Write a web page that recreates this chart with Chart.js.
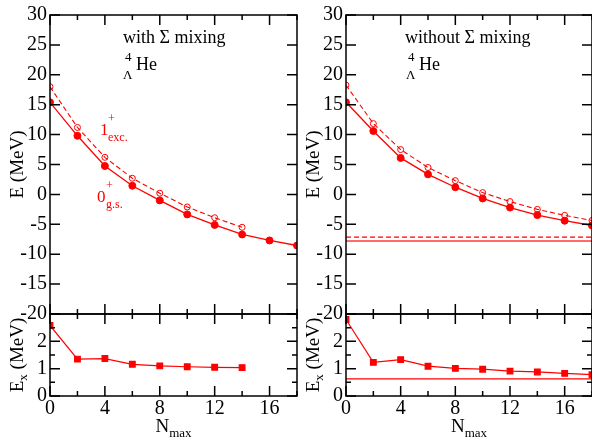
<!DOCTYPE html>
<html>
<head>
<meta charset="utf-8">
<script src="https://cdn.jsdelivr.net/npm/chart.js@4/dist/chart.umd.min.js"></script>
<style>
  html, body { margin: 0; padding: 0; background: #fff; }
  #wrap { position: relative; width: 592px; height: 442px; overflow: hidden; }
  canvas { position: absolute; left: 0; top: 0; }
</style>
</head>
<body>
<div id="wrap">
  <canvas id="lt" width="592" height="442"></canvas>
  <canvas id="lb" width="592" height="442"></canvas>
  <canvas id="rt" width="592" height="442"></canvas>
  <canvas id="rb" width="592" height="442"></canvas>
</div>
<script>
// N_max values
const nmax = [0, 2, 4, 6, 8, 10, 12, 14, 16, 18];

// with Sigma mixing (MeV)
const withGs = [15.4, 9.8, 4.75, 1.45, -1.0, -3.35, -5.1, -6.7, -7.7, -8.55];
const withExc = [18.0, 11.2, 6.2, 2.7, 0.2, -2.1, -3.9, -5.5];
const withEx = [2.58, 1.35, 1.37, 1.16, 1.10, 1.07, 1.05, 1.04];

// without Sigma mixing (MeV)
const woGs = [15.4, 10.6, 6.1, 3.35, 1.2, -0.67, -2.2, -3.46, -4.4, -5.2];
const woExc = [18.27, 11.84, 7.5, 4.5, 2.3, 0.3, -1.2, -2.5, -3.5, -4.36];
const woEx = [2.8, 1.23, 1.33, 1.09, 1.01, 0.98, 0.91, 0.88, 0.83, 0.78];

// horizontal reference levels, right panels
const woGsLine = -7.8;
const woExcLine = -7.15;
const woExLine = 0.63;

const serif = '"Liberation Serif", "Times New Roman", serif';
const red = '#ff0000';

const pts = ys => ys.map((y, i) => ({ x: nmax[i], y: y }));
const flat = v => [{ x: 0, y: v }, { x: 18, y: v }];

// frame, inward ticks and the text labels
const frame = {
  id: 'frame',
  afterDraw(chart, args, o) {
    const { ctx, chartArea: a } = chart;
    const x = chart.scales.x, y = chart.scales.y;
    ctx.save();
    ctx.strokeStyle = '#000';
    ctx.lineWidth = 1.5;
    ctx.strokeRect(a.left, a.top, a.right - a.left, a.bottom - a.top);
    ctx.beginPath();
    for (let v = 0; v <= 18; v += 2) {
      const px = x.getPixelForValue(v);
      const len = v % 4 === 0 ? 10 : 5;
      ctx.moveTo(px, a.top); ctx.lineTo(px, a.top + len);
      ctx.moveTo(px, a.bottom); ctx.lineTo(px, a.bottom - len);
    }
    for (let v = y.min; v <= y.max + 1e-9; v += o.yMinor) {
      const py = y.getPixelForValue(v);
      const r = v / o.yMajor;
      const len = Math.abs(r - Math.round(r)) < 1e-6 ? 10 : 5;
      ctx.moveTo(a.left, py); ctx.lineTo(a.left + len, py);
      ctx.moveTo(a.right, py); ctx.lineTo(a.right - len, py);
    }
    ctx.stroke();

    ctx.textBaseline = 'alphabetic';
    (o.texts || []).forEach(t => {
      ctx.fillStyle = t[4] || '#000';
      ctx.font = t[3] + 'px ' + serif;
      ctx.fillText(t[0], t[1], t[2]);
    });

    // titles built from runs: [text, size, dy]
    (o.titles || []).forEach(g => {
      let w = 0;
      g.parts.forEach(p => { ctx.font = p[1] + 'px ' + serif; w += ctx.measureText(p[0]).width; });
      ctx.save();
      ctx.translate(g.x, g.y);
      if (g.rot) ctx.rotate(-Math.PI / 2);
      ctx.fillStyle = '#000';
      let cx = -w / 2;
      g.parts.forEach(p => {
        ctx.font = p[1] + 'px ' + serif;
        ctx.fillText(p[0], cx, p[2]);
        cx += ctx.measureText(p[0]).width;
      });
      ctx.restore();
    });
    ctx.restore();
  }
};

function makeChart(id, datasets, opt) {
  return new Chart(document.getElementById(id), {
    type: 'line',
    data: { datasets: datasets },
    plugins: [frame],
    options: {
      responsive: false,
      animation: false,
      events: [],
      devicePixelRatio: 1,
      layout: { padding: opt.padding, autoPadding: false },
      plugins: {
        legend: { display: false },
        tooltip: { enabled: false },
        frame: { yMajor: opt.yMajor, yMinor: opt.yMinor, texts: opt.texts, titles: opt.titles }
      },
      scales: {
        x: {
          type: 'linear', min: 0, max: 18,
          display: opt.showX,
          grid: { display: false, drawTicks: false },
          border: { display: false },
          ticks: { stepSize: 4, includeBounds: false, autoSkip: false, maxRotation: 0,
                   padding: 1, color: '#000', font: { family: serif, size: 20 } },
          afterFit: s => { if (opt.showX) s.height = 46; }
        },
        y: {
          type: 'linear', min: opt.yMin, max: opt.yMax,
          grid: { display: false, drawTicks: false },
          border: { display: false },
          ticks: { stepSize: opt.yStep, autoSkip: false, padding: 3, color: '#000',
                   font: { family: serif, size: 20 },
                   callback: v => (v === 3 ? '' : v) },
          afterFit: s => { s.width = 50; }
        }
      }
    }
  });
}

const gsSet = d => ({ data: pts(d), borderColor: red, backgroundColor: red, borderWidth: 1.3,
  pointRadius: 3.5, pointBorderWidth: 1, tension: 0 });
const excSet = d => ({ data: pts(d), borderColor: red, borderWidth: 1.1, borderDash: [5, 3],
  pointRadius: 3, pointBorderWidth: 1, pointBackgroundColor: 'rgba(0,0,0,0)', tension: 0 });
const exSet = d => ({ data: pts(d), borderColor: red, backgroundColor: red, borderWidth: 1.2,
  pointStyle: 'rect', pointRadius: 4, tension: 0 });
const lineSet = (v, c, w, dash) => ({ data: flat(v), borderColor: c, borderWidth: w,
  borderDash: dash || [], pointRadius: 0 });

const Etitle = x => ({ x: x, y: 164.5, rot: true, parts: [['E (MeV)', 19, 0]] });
const Extitle = x => ({ x: x, y: 355, rot: true, parts: [['E', 19, 0], ['x', 13, 4], [' (MeV)', 19, 0]] });
const Ntitle = x => ({ x: x, y: 432, parts: [['N', 19, 0], ['max', 13, 5]] });

makeChart('lt', [gsSet(withGs), excSet(withExc)], {
  padding: { left: 0, right: 295, top: 15, bottom: 128 }, showX: false,
  yMin: -20, yMax: 30, yStep: 5, yMajor: 5, yMinor: 5,
  titles: [Etitle(23)],
  texts: [
    ['with \u03a3 mixing', 123, 43, 18],
    ['4', 125, 61, 13], ['\u039b', 123, 79, 13], ['He', 136, 70, 18],
    ['1', 100, 135, 17, red], ['+', 108, 122, 12, red], ['exc.', 108, 141, 12, red],
    ['0', 97, 202, 17, red], ['+', 106, 189, 12, red], ['g.s.', 106, 208, 12, red]
  ]
});

makeChart('lb', [exSet(withEx)], {
  padding: { left: 0, right: 295, top: 314, bottom: 0 }, showX: true,
  yMin: 0, yMax: 3, yStep: 1, yMajor: 1, yMinor: 0.5,
  titles: [Extitle(23), Ntitle(173.5)], texts: []
});

makeChart('rt', [
  gsSet(woGs), excSet(woExc),
  lineSet(woExcLine, red, 1.1, [5, 3]),
  lineSet(woGsLine, '#ff6a6a', 2)
], {
  padding: { left: 296, right: 0, top: 15, bottom: 128 }, showX: false,
  yMin: -20, yMax: 30, yStep: 5, yMajor: 5, yMinor: 5,
  titles: [Etitle(319)],
  texts: [
    ['without \u03a3 mixing', 405, 43, 18],
    ['4', 408, 61, 13], ['\u039b', 406, 79, 13], ['He', 419, 70, 18]
  ]
});

makeChart('rb', [exSet(woEx), lineSet(woExLine, red, 1.2)], {
  padding: { left: 296, right: 0, top: 314, bottom: 0 }, showX: true,
  yMin: 0, yMax: 3, yStep: 1, yMajor: 1, yMinor: 0.5,
  titles: [Extitle(319), Ntitle(469)], texts: []
});
</script>
</body>
</html>
